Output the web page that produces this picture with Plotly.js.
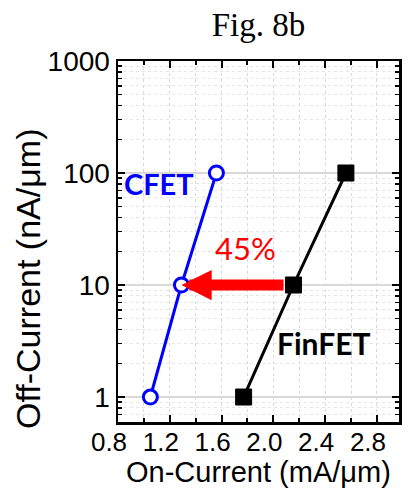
<!DOCTYPE html>
<html>
<head>
<meta charset="utf-8">
<script src="https://cdn.plot.ly/plotly-3.0.1.min.js"></script>
<style>html,body{margin:0;padding:0;background:#fff;}#chart{width:408px;height:488px;}</style>
</head>
<body>
<div id="chart"></div>
<script>
// Data
const offCurrent = [1, 10, 100];              // nA/um
const cfetOn = [1.05, 1.29, 1.56];            // mA/um
const finfetOn = [1.77, 2.155, 2.56];         // mA/um
const xTickVals = [0.8, 1.2, 1.6, 2.0, 2.4, 2.8];
const xTickText = ["0.8", "1.2", "1.6", "2.0", "2.4", "2.8"];
const yTickVals = [1, 10, 100, 1000];
const yTickText = ["1", "10", "100", "1000"];
const seriesNames = ["CFET", "FinFET"];
const improvementLabel = "45%";
const arrowFrom = {x: 2.09, y: 10};
const arrowTo = {x: 1.29, y: 10};

const SANS = '"Liberation Sans", Arial, sans-serif';
const SERIF = '"Liberation Serif", "Times New Roman", serif';
const LATO = 'Lato, "Open Sans", sans-serif';

const traces = [
  {
    x: cfetOn, y: offCurrent, name: seriesNames[0], type: 'scatter', mode: 'lines+markers',
    line: {color: '#0000ff', width: 3},
    marker: {symbol: 'circle', size: 14, color: '#ffffff', line: {color: '#0000ff', width: 3}}
  },
  {
    x: finfetOn, y: offCurrent, name: seriesNames[1], type: 'scatter', mode: 'lines+markers',
    line: {color: '#000000', width: 3},
    marker: {symbol: 'square', size: 16, color: '#000000', line: {color: '#000000', width: 1}}
  }
];

const gridC = '#d9d9d9';
const layout = {
  width: 408, height: 488,
  margin: {l: 118, r: 9, t: 61, b: 66},
  paper_bgcolor: '#ffffff', plot_bgcolor: '#ffffff',
  showlegend: false,
  font: {family: SANS},
  title: {text: 'Fig. 8b', font: {family: SERIF, size: 33, color: '#000'},
          x: 0.5, xref: 'paper', xanchor: 'center', y: 1 - 24/488, yanchor: 'middle'},
  xaxis: {
    range: [0.8, 2.97],
    tickvals: xTickVals, ticktext: xTickText,
    ticks: 'inside', ticklen: 7, tickwidth: 2, tickcolor: '#000',
    showline: true, linecolor: '#000', linewidth: 2.5, mirror: 'ticks',
    showgrid: true, gridcolor: gridC, griddash: 'dot', gridwidth: 1,
    zeroline: false,
    tickfont: {family: SANS, size: 26, color: '#000'},
    ticklabelshift: -9, ticklabelstandoff: -5,
    minor: {dtick: 0.2, tick0: 0.8, ticks: 'inside', ticklen: 4, tickwidth: 2, tickcolor: '#000',
            showgrid: true, gridcolor: gridC, griddash: 'dot', gridwidth: 1}
  },
  yaxis: {
    type: 'log', range: [-0.223, 3],
    tickvals: yTickVals, ticktext: yTickText,
    ticks: 'inside', ticklen: 7, tickwidth: 2, tickcolor: '#000',
    showline: true, linecolor: '#000', linewidth: 2.5, mirror: 'ticks',
    showgrid: true, gridcolor: gridC, gridwidth: 1.2,
    zeroline: false,
    tickfont: {family: SANS, size: 28, color: '#000'},
    minor: {dtick: 'D1', ticks: 'inside', ticklen: 4, tickwidth: 1.5, tickcolor: '#000',
            showgrid: true, gridcolor: '#e6e6e6', griddash: 'dot', gridwidth: 1}
  },
  annotations: [
    {
      x: arrowTo.x, y: Math.log10(arrowTo.y), xref: 'x', yref: 'y',
      ax: arrowFrom.x, ay: Math.log10(arrowFrom.y), axref: 'x', ayref: 'y',
      text: '', showarrow: true, arrowhead: 2, arrowsize: 0.55, arrowwidth: 11, arrowcolor: '#ff0000',
      standoff: 0, startstandoff: 0
    },
    {
      x: 1.781, y: 1.33, xref: 'x', yref: 'y', text: improvementLabel, showarrow: false,
      font: {family: LATO, size: 31, color: '#ff0000'}
    },
    {
      x: 1.117, y: 1.91, xref: 'x', yref: 'y', text: '<b>' + seriesNames[0] + '</b>', showarrow: false,
      font: {family: LATO, size: 29, color: '#0000ff'}
    },
    {
      x: 2.384, y: 0.482, xref: 'x', yref: 'y', text: '<b>' + seriesNames[1] + '</b>', showarrow: false,
      font: {family: LATO, size: 30, color: '#000000'}
    },
    {
      x: 0.5, y: -(472 - 422) / 361, xref: 'paper', yref: 'paper',
      text: 'On-Current (mA/μm)', showarrow: false,
      xanchor: 'center', yanchor: 'middle',
      font: {family: SANS, size: 29, color: '#000'}
    },
    {
      x: (28 - 118) / 281, y: (422 - 279) / 361, xref: 'paper', yref: 'paper',
      text: 'Off-Current (nA/μm)', textangle: -90, showarrow: false,
      xanchor: 'center', yanchor: 'middle',
      font: {family: SANS, size: 34, color: '#000'}
    }
  ]
};

Plotly.newPlot('chart', traces, layout, {staticPlot: true, displayModeBar: false});
</script>
</body>
</html>
